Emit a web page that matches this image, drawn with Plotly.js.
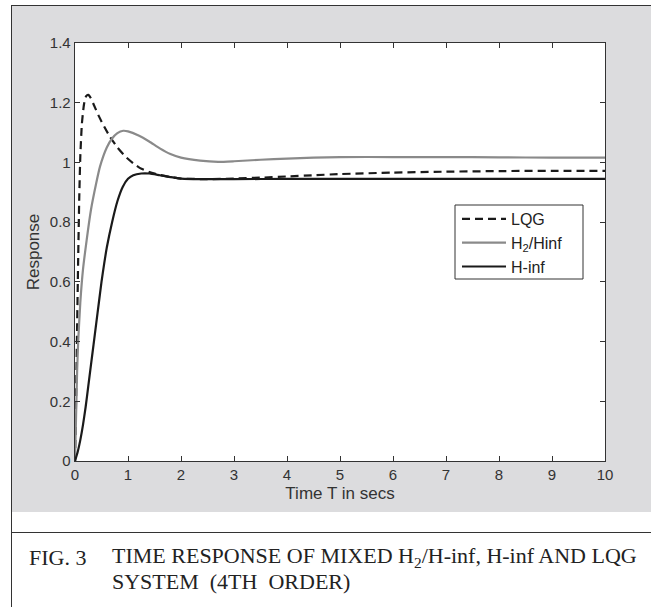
<!DOCTYPE html>
<html>
<head>
<meta charset="utf-8">
<script src="https://cdn.plot.ly/plotly-3.0.1.min.js"></script>
<style>
  html, body { margin: 0; padding: 0; background: #ffffff; }
  #wrap { position: relative; width: 651px; height: 607px; overflow: hidden; }
  #gray { position: absolute; left: 12px; top: 6px; width: 639px; height: 506px; background: #dcdcde; }
  #topline { position: absolute; left: 11px; top: 5px; width: 640px; height: 1px; background: #333; }
  #leftline { position: absolute; left: 11px; top: 5px; width: 1px; height: 602px; background: #333; }
  #sepline { position: absolute; left: 11px; top: 532px; width: 640px; height: 1px; background: #333; }
  #plot { position: absolute; left: 0; top: 0; width: 651px; height: 607px; }
</style>
</head>
<body>
<div id="wrap">
  <div id="gray"></div>
  <div id="topline"></div>
  <div id="leftline"></div>
  <div id="sepline"></div>
  <div id="plot"></div>
</div>
<script>
// Time samples and responses
const tLQG   = [0, 0.02, 0.04, 0.06, 0.08, 0.1, 0.13, 0.17, 0.21, 0.25, 0.3, 0.35, 0.45, 0.55, 0.66, 0.8, 0.95, 1.1, 1.23, 1.4, 1.6, 1.8, 2.0, 2.5, 3, 3.5, 4, 4.5, 5, 6, 7, 8, 9, 10];
const yLQG   = [0, 0.2, 0.45, 0.68, 0.88, 1.02, 1.13, 1.195, 1.222, 1.226, 1.215, 1.195, 1.155, 1.12, 1.086, 1.05, 1.02, 0.997, 0.981, 0.968, 0.958, 0.951, 0.946, 0.944, 0.946, 0.949, 0.953, 0.957, 0.961, 0.966, 0.969, 0.971, 0.972, 0.972];

const tH2    = [0, 0.02, 0.04, 0.06, 0.1, 0.15, 0.22, 0.3, 0.4, 0.47, 0.6, 0.7, 0.8, 0.91, 1.0, 1.2, 1.4, 1.6, 1.8, 2.0, 2.36, 2.7, 3, 3.5, 4, 4.5, 5, 6, 7, 8, 9, 10];
const yH2    = [0, 0.15, 0.3, 0.4, 0.53, 0.64, 0.74, 0.84, 0.93, 0.985, 1.05, 1.08, 1.098, 1.106, 1.104, 1.09, 1.07, 1.047, 1.028, 1.016, 1.006, 1.002, 1.004, 1.009, 1.013, 1.016, 1.018, 1.018, 1.018, 1.017, 1.016, 1.016];

const tHinf  = [0, 0.05, 0.1, 0.15, 0.2, 0.25, 0.3, 0.35, 0.4, 0.45, 0.5, 0.55, 0.6, 0.7, 0.8, 0.9, 1.0, 1.1, 1.25, 1.4, 1.6, 1.8, 2.0, 2.5, 3, 4, 5, 6, 7, 8, 9, 10];
const yHinf  = [0, 0.03, 0.07, 0.12, 0.18, 0.25, 0.32, 0.39, 0.46, 0.53, 0.6, 0.66, 0.715, 0.8, 0.87, 0.918, 0.945, 0.957, 0.963, 0.963, 0.957, 0.951, 0.946, 0.944, 0.944, 0.945, 0.945, 0.945, 0.945, 0.945, 0.945, 0.945];

const xTicks = [0, 1, 2, 3, 4, 5, 6, 7, 8, 9, 10];
const yTicks = [0, 0.2, 0.4, 0.6, 0.8, 1, 1.2, 1.4];
const yTickLabels = ['0', '0.2', '0.4', '0.6', '0.8', '1', '1.2', '1.4'];

const names = ['LQG', 'H<sub>2</sub>/Hinf', 'H-inf'];

const traces = [
  { x: tLQG, y: yLQG, name: names[0], mode: 'lines', line: { color: '#1a1a1a', width: 2.2, dash: '8px,5px', shape: 'spline', smoothing: 0.5 } },
  { x: tH2, y: yH2, name: names[1], mode: 'lines', line: { color: '#8a8a8a', width: 2.2, shape: 'spline', smoothing: 0.5 } },
  { x: tHinf, y: yHinf, name: names[2], mode: 'lines', line: { color: '#1a1a1a', width: 2.2, shape: 'spline', smoothing: 0.5 } }
];

const sans = 'Liberation Sans, Arial, sans-serif';
const serif = 'Liberation Serif, Times New Roman, serif';
const axisFont = { family: sans, size: 15, color: '#333333' };
const capFont = { family: serif, size: 22, color: '#222222' };

// pixel -> paper helpers for the frame decorations
const px = v => (v - 75) / 530;
const py = v => (461 - v) / 418;

const layout = {
  width: 651, height: 607,
  margin: { l: 75, r: 46, t: 43, b: 146, pad: 0 },
  paper_bgcolor: 'rgba(0,0,0,0)',
  plot_bgcolor: '#ffffff',
  showlegend: true,
  legend: {
    x: px(457), y: py(202), xanchor: 'left', yanchor: 'top',
    bgcolor: 'rgba(0,0,0,0)', borderwidth: 0,
    font: { family: sans, size: 16, color: '#222222' },
    tracegroupgap: 0, itemwidth: 44
  },
  shapes: [
    { type: 'rect', xref: 'paper', yref: 'paper', x0: px(455), x1: px(583), y0: py(279), y1: py(205),
      line: { color: '#333333', width: 1 }, fillcolor: '#ffffff', layer: 'below' }
  ],
  xaxis: {
    range: [0, 10], tickvals: xTicks, ticktext: xTicks.map(String),
    ticks: 'inside', ticklen: 5, tickcolor: '#333', tickwidth: 1,
    showline: true, linecolor: '#333', linewidth: 1.3, mirror: 'ticks',
    showgrid: false, zeroline: false, tickfont: axisFont,
    title: { text: 'Time T in secs', font: { family: sans, size: 17, color: '#333333' }, standoff: 4 }
  },
  yaxis: {
    range: [0, 1.4], tickvals: yTicks, ticktext: yTickLabels,
    ticks: 'inside', ticklen: 5, tickcolor: '#333', tickwidth: 1,
    showline: true, linecolor: '#333', linewidth: 1.3, mirror: 'ticks',
    showgrid: false, zeroline: false, tickfont: axisFont,
    title: { text: 'Response', font: { family: sans, size: 17, color: '#333333' }, standoff: 6 }
  },
  annotations: [
    { xref: 'paper', yref: 'paper', x: px(27), y: py(557), xanchor: 'left', yanchor: 'middle',
      text: 'FIG. 3', showarrow: false, font: capFont },
    { xref: 'paper', yref: 'paper', x: px(110), y: py(557), xanchor: 'left', yanchor: 'middle',
      text: 'TIME RESPONSE OF MIXED H<sub>2</sub>/H-inf, H-inf AND LQG', showarrow: false, font: capFont },
    { xref: 'paper', yref: 'paper', x: px(110), y: py(581), xanchor: 'left', yanchor: 'middle',
      text: 'SYSTEM  (4TH  ORDER)', showarrow: false, font: capFont }
  ]
};

Plotly.newPlot('plot', traces, layout, { displayModeBar: false, staticPlot: true });
</script>
</body>
</html>
